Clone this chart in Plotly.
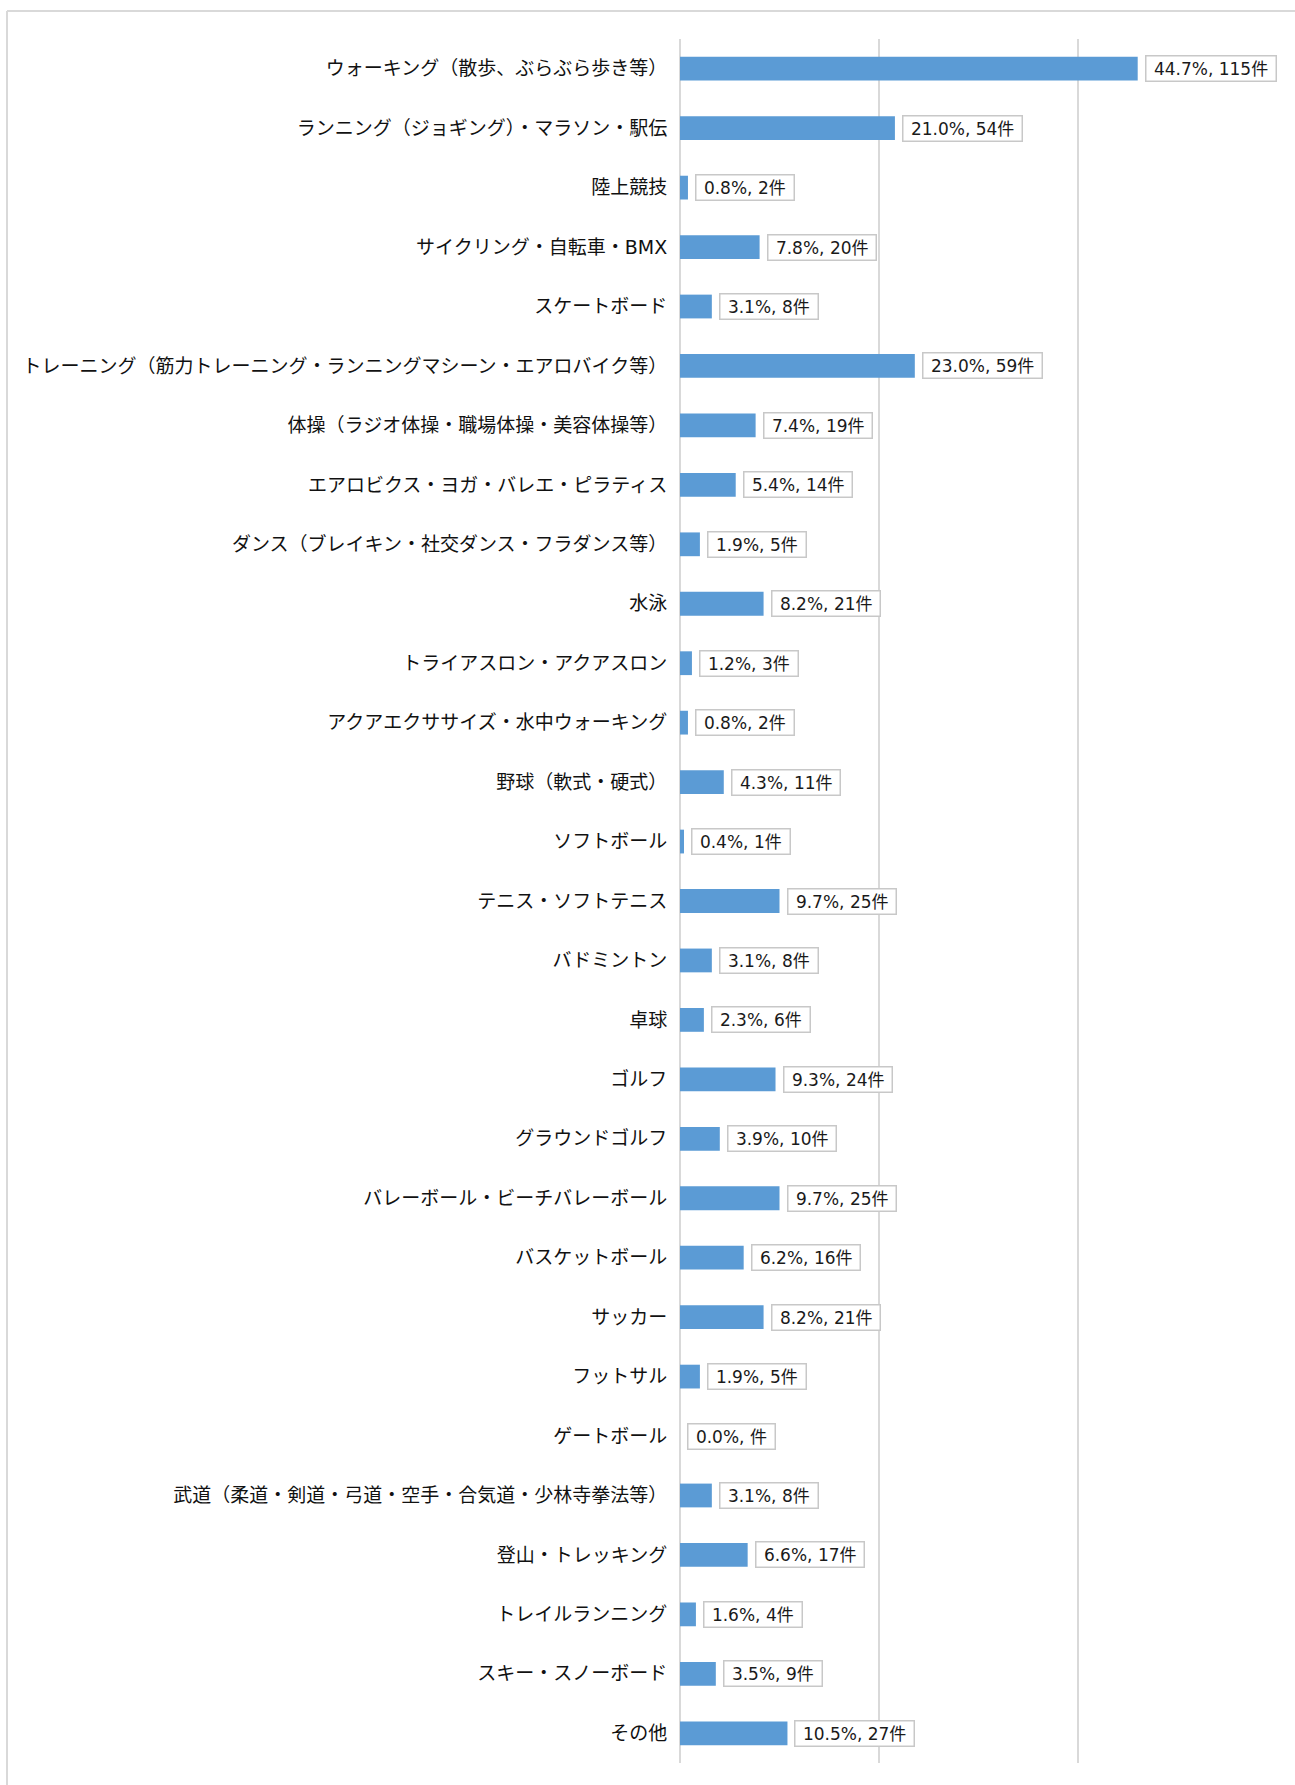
import plotly.graph_objects as go

categories = [
    "ウォーキング（散歩、ぶらぶら歩き等）",
    "ランニング（ジョギング）・マラソン・駅伝",
    "陸上競技",
    "サイクリング・自転車・BMX",
    "スケートボード",
    "トレーニング（筋力トレーニング・ランニングマシーン・エアロバイク等）",
    "体操（ラジオ体操・職場体操・美容体操等）",
    "エアロビクス・ヨガ・バレエ・ピラティス",
    "ダンス（ブレイキン・社交ダンス・フラダンス等）",
    "水泳",
    "トライアスロン・アクアスロン",
    "アクアエクササイズ・水中ウォーキング",
    "野球（軟式・硬式）",
    "ソフトボール",
    "テニス・ソフトテニス",
    "バドミントン",
    "卓球",
    "ゴルフ",
    "グラウンドゴルフ",
    "バレーボール・ビーチバレーボール",
    "バスケットボール",
    "サッカー",
    "フットサル",
    "ゲートボール",
    "武道（柔道・剣道・弓道・空手・合気道・少林寺拳法等）",
    "登山・トレッキング",
    "トレイルランニング",
    "スキー・スノーボード",
    "その他",
]
percents = [44.7, 21.0, 0.8, 7.8, 3.1, 23.0, 7.4, 5.4, 1.9, 8.2, 1.2, 0.8, 4.3, 0.4,
            9.7, 3.1, 2.3, 9.3, 3.9, 9.7, 6.2, 8.2, 1.9, 0.0, 3.1, 6.6, 1.6, 3.5, 10.5]
counts = [115, 54, 2, 20, 8, 59, 19, 14, 5, 21, 3, 2, 11, 1,
          25, 8, 6, 24, 10, 25, 16, 21, 5, None, 8, 17, 4, 9, 27]
x_ticks = [0, 50, 100, 150]

bar_x = [c if c is not None else 0 for c in counts]
NB = "\u00a0"
labels = [f"{NB}{p:.1f}%, {'' if c is None else c}件{NB}" for p, c in zip(percents, counts)]

FONT = "DejaVu Sans, Noto Sans CJK JP, sans-serif"
CJK = "Noto Sans CJK JP, sans-serif"

fig = go.Figure()
fig.add_trace(go.Bar(
    x=bar_x, y=categories, orientation="h",
    marker=dict(color="#5b9bd5", line=dict(width=0)),
    hoverinfo="skip",
))

annotations = []
for xv, cat, lab in zip(bar_x, categories, labels):
    annotations.append(dict(
        x=xv, y=cat, xref="x", yref="y", text=lab, showarrow=False,
        xanchor="left", yanchor="middle", xshift=7,
        font=dict(family=FONT, size=17, color="#1a1a1a"),
        bgcolor="#ffffff", bordercolor="#c8c8c8", borderwidth=1.5, borderpad=2,
    ))

# outer frame (pixel -> paper conversion)
L, R, T, B = 680, 1277, 39, 1763
def px_x(p):
    return (p - L) / (R - L)
def px_y(p):
    return (B - p) / (B - T)

shapes = [
    dict(type="line", xref="paper", yref="paper", x0=px_x(7), x1=px_x(7),
         y0=px_y(11), y1=px_y(1800), line=dict(color="#d9d9d9", width=2), layer="below"),
    dict(type="line", xref="paper", yref="paper", x0=px_x(7), x1=px_x(1300),
         y0=px_y(11), y1=px_y(11), line=dict(color="#d9d9d9", width=2), layer="below"),
]

fig.update_layout(
    width=1295, height=1785,
    margin=dict(l=L, r=1295 - R, t=T, b=1785 - B, pad=0),
    paper_bgcolor="#ffffff", plot_bgcolor="#ffffff",
    bargap=0.6, showlegend=False,
    font=dict(family=CJK, color="#000000"),
    annotations=annotations, shapes=shapes,
    xaxis=dict(range=[0, 150], tickvals=x_ticks, showticklabels=False,
               showgrid=True, gridcolor="#d9d9d9", gridwidth=2,
               zeroline=True, zerolinecolor="#d9d9d9", zerolinewidth=2,
               showline=False, fixedrange=True),
    yaxis=dict(autorange="reversed", type="category",
               tickfont=dict(family=FONT, size=19, color="#111111"),
               ticks="outside", ticklen=8, tickcolor="rgba(0,0,0,0)",
               showgrid=False, showline=False, zeroline=False),
)

fig.write_html("out.html")
